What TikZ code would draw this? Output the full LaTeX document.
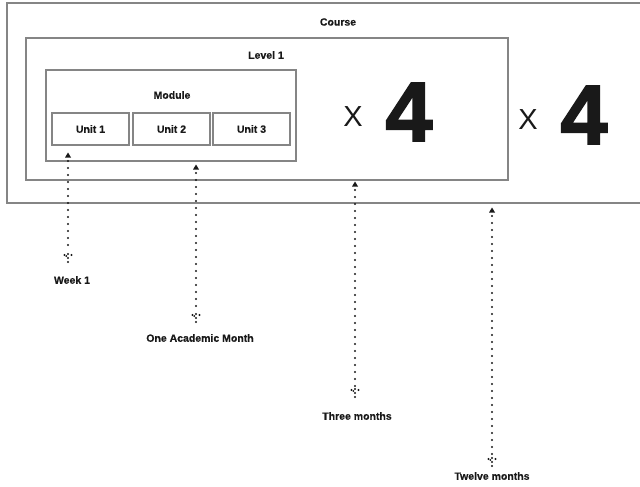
\documentclass[tikz,border=0pt]{standalone}
\usepackage{fontspec}
\setmainfont{Liberation Sans}
\newfontfamily\heavyfont{Liberation Sans Bold}[FakeBold=2.2]
\newfontfamily\lblfont{Liberation Sans Bold}[FakeBold=0.4]
\usetikzlibrary{calc}
\begin{document}
\begin{tikzpicture}[x=1pt,y=-1pt,
  frame/.style={draw=black!48, line width=2pt},
  unitbox/.style={draw=black!48, line width=2pt, fill=white},
  lbl/.style={font=\fontsize{10.5}{12}\lblfont, text=black!90, inner sep=0pt},
  times/.style={font=\fontsize{29}{30}\selectfont, text=black!90, inner sep=0pt},
  four/.style={font=\fontsize{84}{86}\heavyfont, text=black!90, inner sep=0pt},
  dotline/.style={line width=2.1pt, dash pattern=on 0pt off 7pt, line cap=round, black!90},
  tip/.style={fill=black!90},
  dotdot/.style={fill=black!90}
]
\useasboundingbox (0,0) rectangle (640,487);
\begin{scope}
\clip (0,0) rectangle (640,487);
\draw[frame] (7,3) rectangle (660,203);
\end{scope}
\draw[frame] (26,38) rectangle (508,180);
\draw[frame] (46,70) rectangle (296,161);
\node[unitbox, minimum width=77pt, minimum height=32pt] (u1) at (90.5,129) {};
\node[unitbox, minimum width=77pt, minimum height=32pt] (u2) at (171.5,129) {};
\node[unitbox, minimum width=77pt, minimum height=32pt] (u3) at (251.5,129) {};
\node[lbl] (t1) at (u1) {Unit 1};
\node[lbl] (t2) at (u2) {Unit 2};
\node[lbl] (t3) at (u3) {Unit 3};
\node[lbl] (course) at (338,22) {Course};
\node[lbl] (level) at (266,55) {Level 1};
\node[lbl] (module) at (172,95) {Module};
\node[times] (x1) at (353,117) {X};
\node[four] (f1) at (409,112) {4};
\node[times] (x2) at (528,120) {X};
\node[four] (f2) at (584,115) {4};

\node[lbl] (week) at (72,280) {Week 1};
\node[lbl] (month) at (200,338) {One Academic Month};
\node[lbl] (three) at (357,416) {Three months};
\node[lbl] (twelve) at (492,476) {Twelve months};

\coordinate (a1) at (68,155); \coordinate (b1) at (68,262);
\coordinate (a2) at (196,167); \coordinate (b2) at (196,322);
\coordinate (a3) at (355,184); \coordinate (b3) at (355,397);
\coordinate (a4) at (492,210); \coordinate (b4) at (492,466);

\foreach \a/\b in {a1/b1,a2/b2,a3/b3,a4/b4}{
  \draw[dotline] ($(\a)+(0,6)$) -- ($(\b)+(0,-10)$);
  \fill[tip] ($(\a)+(-3,2.5)$) -- ($(\a)+(3,2.5)$) -- ($(\a)+(0,-2.5)$) -- cycle;
  \foreach \dx/\dy in {-3.5/-7,3.5/-7,0/-8,-1.7/-6,0/-4,0/0}
    \fill[dotdot] ($(\b)+(\dx,\dy)$) circle (1.05);
}
\end{tikzpicture}
\end{document}
